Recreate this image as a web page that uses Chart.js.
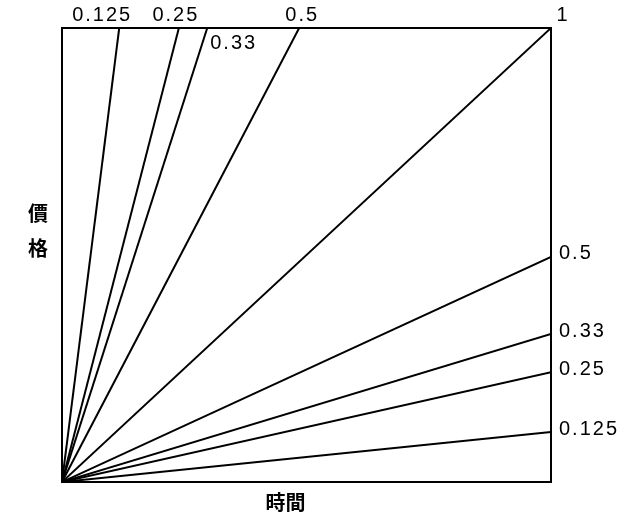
<!DOCTYPE html>
<html>
<head>
<meta charset="utf-8">
<script src="https://cdn.jsdelivr.net/npm/chart.js@4"></script>
<style>
html,body{margin:0;padding:0;background:#fff;}
#wrap{width:625px;height:522px;position:relative;}
</style>
</head>
<body>
<div id="wrap"><canvas id="c"></canvas></div>
<script>
// Gann fan ratios
const ratioLabels = ['0.125', '0.25', '0.33', '0.5'];
// steep lines: x where they hit the top (y = 1)
const steepEnds = [0.117, 0.239, 0.297, 0.485];
// shallow lines: y where they hit the right edge (x = 1)
const shallowEnds = [0.110, 0.242, 0.326, 0.496];
const mainLabel = '1';
const xTitle = '時間';
const yTitle = ['價', '格'];

const datasets = [];
steepEnds.forEach((v, i) => datasets.push({
  label: 'steep ' + ratioLabels[i],
  data: [{x: 0, y: 0}, {x: v, y: 1}]
}));
datasets.push({label: mainLabel, data: [{x: 0, y: 0}, {x: 1, y: 1}]});
shallowEnds.forEach((v, i) => datasets.push({
  label: 'shallow ' + ratioLabels[i],
  data: [{x: 0, y: 0}, {x: 1, y: v}]
}));
datasets.forEach(d => {
  d.showLine = true; d.borderColor = '#000'; d.borderWidth = 2;
  d.pointRadius = 0; d.fill = false; d.tension = 0;
});

const labelFont = '20px "Liberation Sans", Arial, sans-serif';
const cjkFont = 'bold 20px "Noto Sans CJK TC", "Noto Sans CJK SC", sans-serif';
// per-label offsets for top labels (style)
const topOffsets = [{dx: -17, dy: -13, align: 'center'}, {dx: -3, dy: -13, align: 'center'},
                    {dx: 3, dy: 15, align: 'left'}, {dx: 3, dy: -13, align: 'center'}];

const fanText = {
  id: 'fanText',
  afterDraw(chart) {
    const ctx = chart.ctx, a = chart.chartArea;
    const xs = chart.scales.x, ys = chart.scales.y;
    ctx.save();
    ctx.strokeStyle = '#000'; ctx.lineWidth = 2;
    ctx.strokeRect(a.left, a.top, a.right - a.left, a.bottom - a.top);
    ctx.fillStyle = '#000';
    ctx.font = labelFont;
    ctx.letterSpacing = '2px';
    ctx.textBaseline = 'middle';
    steepEnds.forEach((v, i) => {
      const o = topOffsets[i];
      ctx.textAlign = o.align;
      ctx.fillText(ratioLabels[i], xs.getPixelForValue(v) + o.dx, ys.getPixelForValue(1) + o.dy);
    });
    ctx.textAlign = 'center';
    ctx.fillText(mainLabel, xs.getPixelForValue(1) + 12, ys.getPixelForValue(1) - 13);
    ctx.textAlign = 'left';
    shallowEnds.forEach((v, i) => {
      ctx.fillText(ratioLabels[i], xs.getPixelForValue(1) + 8, ys.getPixelForValue(v) - 3);
    });
    ctx.letterSpacing = '0px';
    ctx.font = cjkFont;
    ctx.textAlign = 'center';
    ctx.fillText(xTitle, (a.left + a.right) / 2 - 21, a.bottom + 20);
    ctx.fillText(yTitle[0], a.left - 24, 213);
    ctx.fillText(yTitle[1], a.left - 24, 248);
    ctx.restore();
  }
};

new Chart(document.getElementById('c'), {
  type: 'scatter',
  data: {datasets},
  options: {
    responsive: true, maintainAspectRatio: false, animation: false,
    layout: {padding: {left: 62, right: 74, top: 28, bottom: 40}},
    plugins: {legend: {display: false}, tooltip: {enabled: false}, title: {display: false}},
    scales: {
      x: {type: 'linear', min: 0, max: 1, display: false},
      y: {type: 'linear', min: 0, max: 1, display: false}
    }
  },
  plugins: [fanText]
});
</script>
</body>
</html>
